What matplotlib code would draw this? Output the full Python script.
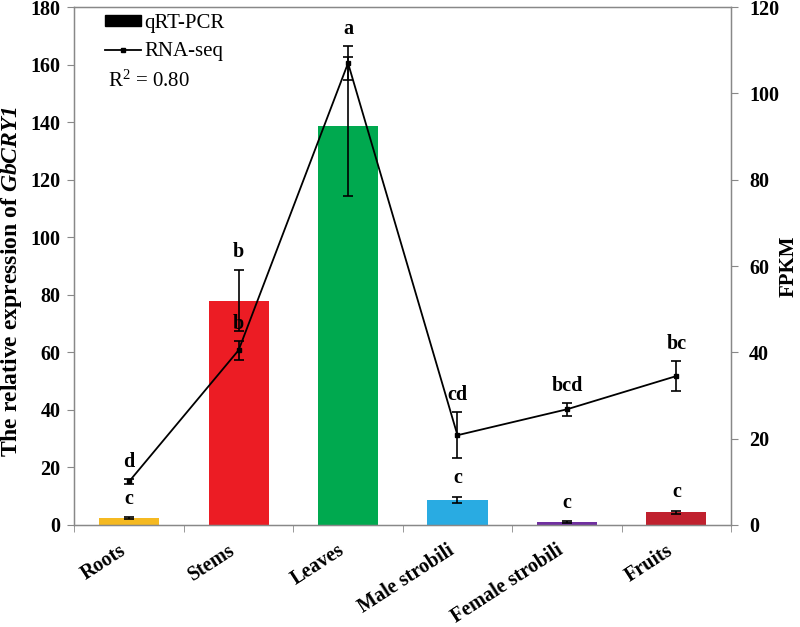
import matplotlib
matplotlib.use("Agg")
import matplotlib.pyplot as plt
from matplotlib.patches import Patch
from matplotlib.lines import Line2D
import numpy as np

plt.rcParams['font.family'] = ['Liberation Serif', 'DejaVu Serif']
plt.rcParams['mathtext.fontset'] = 'custom'
plt.rcParams['mathtext.rm'] = 'Liberation Serif'
plt.rcParams['mathtext.bf'] = 'Liberation Serif:bold'
plt.rcParams['mathtext.it'] = 'Liberation Serif:italic'
plt.rcParams['mathtext.bfit'] = 'Liberation Serif:italic:bold'

categories = ["Roots", "Stems", "Leaves", "Male strobili", "Female strobili", "Fruits"]
qpcr_values = [2.4, 78.0, 138.5, 8.8, 1.0, 4.4]
qpcr_errors = [0.3, 10.5, 24.0, 1.0, 0.4, 0.6]
qpcr_letters = ["c", "b", "", "c", "c", "c"]
fpkm_values = [10.1, 40.5, 107.0, 20.8, 26.8, 34.5]
fpkm_errors = [0.5, 2.2, 3.9, 5.3, 1.5, 3.5]
fpkm_letters = ["d", "b", "a", "cd", "bcd", "bc"]
bar_colors = ["#F5B921", "#EC1C24", "#00A94F", "#29ABE2", "#7030A0", "#C0212E"]
left_ticks = [0, 20, 40, 60, 80, 100, 120, 140, 160, 180]
right_ticks = [0, 20, 40, 60, 80, 100, 120]
r2_text = "R$^2$ = 0.80"

fig = plt.figure(figsize=(8.0, 6.27), dpi=100)
ax = fig.add_axes([0.0931, 0.1627, 0.8207, 0.8261])
x = np.arange(len(categories))

spine_col = "#888888"
ax.bar(x, qpcr_values, width=0.55, color=bar_colors, zorder=2)
ax.errorbar(x, qpcr_values, yerr=qpcr_errors, fmt='none', ecolor='black',
            elinewidth=1.2, capsize=3.5, capthick=1.2, zorder=3)
ax.set_xlim(-0.5, len(categories) - 0.5)
ax.set_ylim(0, 180)
ax.set_yticks(left_ticks)
ax.tick_params(axis='y', direction='out', length=5, color=spine_col, labelsize=14.5, pad=5)
for lab in ax.get_yticklabels():
    lab.set_fontweight('bold')

ax.set_xticks(x)
ax.set_xticklabels(categories, rotation=33, ha='right', fontsize=14.5, fontweight='bold')
ax.tick_params(axis='x', which='major', length=0, pad=11)
ax.set_xticks(np.arange(-0.5, len(categories), 1.0), minor=True)
ax.tick_params(axis='x', which='minor', direction='out', length=5, color=spine_col)

for s in ax.spines.values():
    s.set_color(spine_col)
    s.set_linewidth(1.0)

ax.set_ylabel(r"The relative expression of $\mathbfit{GbCRY1}$", fontsize=17,
              fontweight='bold')
ax.yaxis.set_label_coords(-0.077, 0.47)

for xi, v, e, t in zip(x, qpcr_values, qpcr_errors, qpcr_letters):
    if t:
        ax.annotate(t, (xi, v + e), xytext=(0, 6), textcoords='offset points',
                    ha='center', va='bottom', fontsize=14.5, fontweight='bold')

ax2 = ax.twinx()
ax2.errorbar(x, fpkm_values, yerr=fpkm_errors, color='black', lw=1.3,
             marker='s', markersize=2.2, ecolor='black', elinewidth=1.2,
             capsize=3.5, capthick=1.2, zorder=4)
ax2.set_ylim(0, 120)
ax2.set_yticks(right_ticks)
ax2.tick_params(axis='y', direction='out', length=5, color=spine_col, labelsize=14.5, pad=8)
for lab in ax2.get_yticklabels():
    lab.set_fontweight('bold')
for s in ax2.spines.values():
    s.set_color(spine_col)
ax2.set_ylabel("FPKM", fontsize=15, fontweight='bold')
ax2.yaxis.set_label_coords(1.072, 0.5)

for xi, v, e, t in zip(x, fpkm_values, fpkm_errors, fpkm_letters):
    if t:
        ax2.annotate(t, (xi, v + e), xytext=(0, 5), textcoords='offset points',
                     ha='center', va='bottom', fontsize=14.5, fontweight='bold')

handles = [Patch(facecolor='black', edgecolor='black'),
           Line2D([0], [0], color='black', lw=1.3, marker='s', markersize=3)]
leg = ax.legend(handles, ["qRT-PCR", "RNA-seq"], loc='upper left',
                bbox_to_anchor=(0.025, 1.015), frameon=False, fontsize=15,
                handlelength=1.7, handleheight=0.45, handletextpad=0.15,
                labelspacing=0.45, borderpad=0.2)
ax.text(0.051, 0.856, r2_text, transform=ax.transAxes, fontsize=15,
        ha='left', va='center')

fig.savefig("out.png", dpi=100)
